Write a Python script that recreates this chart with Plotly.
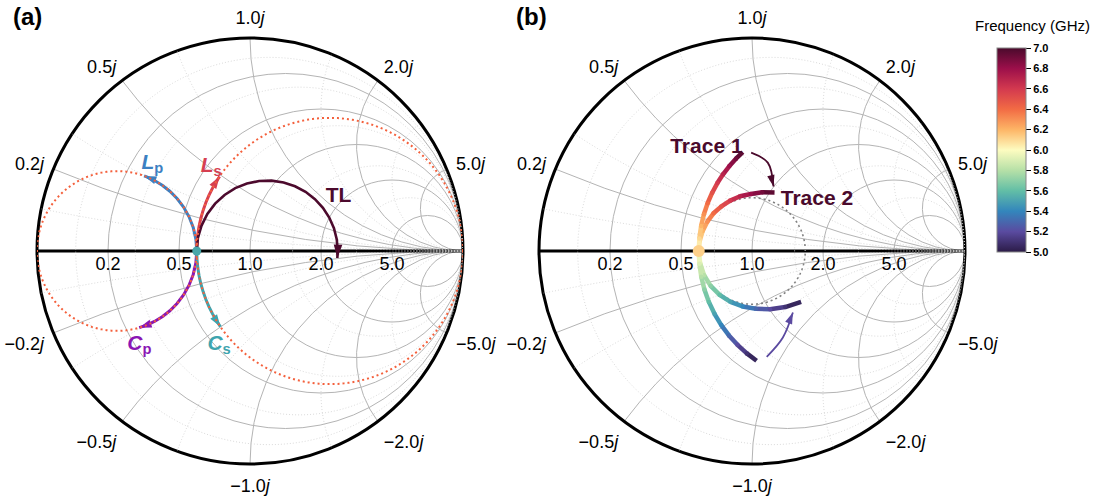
import numpy as np
import plotly.graph_objects as go
from plotly.colors import sample_colorscale

FONT = "Liberation Sans, Arial, sans-serif"
W, H = 1097, 498

# ---------------- data ----------------
z_load = 0.6                 # normalized starting impedance (30 ohm on 50 ohm)
g_load = 1.0 / z_load        # matching conductance of the start point

# (a) series L / series C: reactance swept along r = 0.6
ls_x = [0.0, 0.05, 0.10, 0.15, 0.20, 0.25, 0.30, 0.35, 0.40, 0.45, 0.49]
cs_x = [0.0, -0.05, -0.10, -0.15, -0.20, -0.25, -0.30, -0.35, -0.40, -0.45, -0.50]
# (a) shunt L / shunt C: susceptance swept along g = 1/0.6
lp_b = [0.0, -0.2, -0.4, -0.6, -0.8, -1.0, -1.2, -1.4, -1.6, -1.8, -1.87]
cp_b = [0.0, 0.2, 0.4, 0.6, 0.8, 1.0, 1.2, 1.4, 1.6, 1.8, 2.0]
# (a) transmission-line section, normalized impedance along the line
tl_r = [0.600, 0.603, 0.614, 0.632, 0.658, 0.693, 0.738, 0.797, 0.869, 0.960,
        1.072, 1.208, 1.371, 1.563, 1.777, 1.998, 2.201, 2.347, 2.400, 2.380]
tl_x = [0.000, 0.079, 0.157, 0.237, 0.317, 0.398, 0.480, 0.561, 0.642, 0.720,
        0.792, 0.851, 0.891, 0.898, 0.856, 0.749, 0.565, 0.306, 0.000, -0.187]

# (b) frequency sweep, 5-7 GHz
freq_ghz = [5.0, 5.1, 5.2, 5.3, 5.4, 5.5, 5.6, 5.7, 5.8, 5.9, 6.0,
            6.1, 6.2, 6.3, 6.4, 6.5, 6.6, 6.7, 6.8, 6.9, 7.0]
trace1_r = [0.60] * 21
trace1_x = [-0.843, -0.751, -0.660, -0.572, -0.486, -0.401, -0.318, -0.236, -0.156, -0.077, 0.0,
            0.076, 0.151, 0.225, 0.297, 0.369, 0.439, 0.509, 0.577, 0.645, 0.712]
# trace 2 as reflection coefficient (magnitude, angle in degrees)
trace2_mag = [0.332, 0.306, 0.286, 0.272, 0.264, 0.259, 0.256, 0.254, 0.252, 0.250, 0.250,
              0.250, 0.250, 0.251, 0.253, 0.254, 0.258, 0.263, 0.268, 0.280, 0.294]
trace2_deg = [-46.0, -59.4, -72.8, -86.2, -99.6, -113.0, -126.4, -139.8, -153.2, -166.6, 180.0,
              168.9, 157.8, 146.7, 135.6, 124.5, 113.4, 102.3, 91.2, 80.1, 68.9]

cbar_ticks = [5.0, 5.2, 5.4, 5.6, 5.8, 6.0, 6.2, 6.4, 6.6, 6.8, 7.0]
f_min, f_max = 5.0, 7.0

freq_scale = [
    [0.0, "#2b1b47"], [0.1, "#5a4ba0"], [0.2, "#3386bc"], [0.3, "#62bea6"],
    [0.4, "#b6e0a7"], [0.5, "#fdfcc0"], [0.6, "#fdb566"], [0.7, "#f26b44"],
    [0.8, "#d3394f"], [0.9, "#9c0f4a"], [1.0, "#4a0a2c"],
]

# chart grid values
tickvals = [0.2, 0.5, 1.0, 2.0, 5.0]
imag_tickvals = [-5.0, -2.0, -1.0, -0.5, -0.2, 0.2, 0.5, 1.0, 2.0, 5.0]
r_minor = [0.1, 0.3, 0.7, 1.5, 3.0]
x_minor = [0.1, 0.3, 0.7, 1.5, 3.0]

# annotation positions, given as reflection coefficients
lbl_a = {
    "Lp": (-0.458, 0.411), "Ls": (-0.182, 0.397), "TL": (0.416, 0.257),
    "Cp": (-0.519, -0.439), "Cs": (-0.145, -0.439),
}
lbl_b = {"Trace 1": (-0.214, 0.485), "Trace 2": (0.305, 0.241)}
bend_arrow_1 = [(-0.004, 0.462), (0.074, 0.415), (0.101, 0.303)]
bend_arrow_2 = [(0.069, -0.497), (0.145, -0.406), (0.192, -0.289)]
real_label_drop = 0.066      # real-axis labels sit this far below the axis (in |Gamma| units)

# ---------------- helpers ----------------
def to_gamma(z):
    z = np.asarray(z, dtype=complex)
    return (z - 1) / (z + 1)


def to_z(g):
    g = np.asarray(g, dtype=complex)
    return (1 + g) / (1 - g)


fig = go.Figure()


def add_line(z, sp, color, width, dash=None):
    z = np.asarray(z, dtype=complex)
    fig.add_trace(go.Scattersmith(
        real=z.real, imag=z.imag, mode="lines", subplot=sp,
        line=dict(color=color, width=width, dash=dash),
        showlegend=False, hoverinfo="skip"))


def add_arrow(z, sp, color, width, head=13, smooth=False):
    z = np.asarray(z, dtype=complex)
    fig.add_trace(go.Scattersmith(
        real=z.real, imag=z.imag, mode="lines", subplot=sp,
        line=dict(color=color, width=width, shape="spline" if smooth else "linear"),
        showlegend=False, hoverinfo="skip"))
    g = to_gamma(z[-2:])
    d = g[1] - g[0]
    ang = float(np.degrees(np.arctan2(d.real, d.imag)))
    fig.add_trace(go.Scattersmith(
        real=[z[-1].real], imag=[z[-1].imag], mode="markers", subplot=sp,
        marker=dict(symbol="arrow", size=head, color=color, angle=ang,
                    angleref="up", line=dict(width=0)),
        showlegend=False, hoverinfo="skip"))


def add_gradient(z, freqs, sp, width):
    z = np.asarray(z, dtype=complex)
    f = np.asarray(freqs, dtype=float)
    mids = (f[:-1] + f[1:]) / 2
    cols = sample_colorscale(freq_scale, list((mids - f_min) / (f_max - f_min)))
    for i in range(len(z) - 1):
        fig.add_trace(go.Scattersmith(
            real=z[i:i + 2].real, imag=z[i:i + 2].imag, mode="lines", subplot=sp,
            line=dict(color=cols[i], width=width),
            showlegend=False, hoverinfo="skip"))
    pcols = sample_colorscale(freq_scale, list((f - f_min) / (f_max - f_min)))
    fig.add_trace(go.Scattersmith(
        real=z[1:-1].real, imag=z[1:-1].imag, mode="markers", subplot=sp,
        marker=dict(size=width, color=pcols[1:-1], line=dict(width=0)),
        showlegend=False, hoverinfo="skip"))


def add_text_at(z, text, sp, color, size, pos="middle center"):
    fig.add_trace(go.Scattersmith(
        real=[z.real], imag=[z.imag], mode="text", subplot=sp,
        text=[text], textposition=pos,
        textfont=dict(family=FONT, size=size, color=color),
        showlegend=False, hoverinfo="skip"))


def add_label(g, text, sp, color, size=21):
    add_text_at(to_z([complex(*g)])[0], text, sp, color, size)


def circle_in_gamma(center, radius, n=400):
    phi = np.linspace(0, 2 * np.pi, n)
    g = center + radius * np.exp(1j * phi)
    g = np.where(np.abs(g - 1) < 1e-6, 1 - 1e-6, g)
    return to_z(g)


# minor dotted grid and real-axis labels for both charts
for sp in ("smith", "smith2"):
    for r in r_minor:
        zc = circle_in_gamma(r / (1 + r), 1 / (1 + r))
        add_line(zc, sp, "#d0d0d0", 0.8, dash="1px,2px")
    for xv in x_minor:
        rr = np.concatenate([[0.0], np.geomspace(1e-3, 1e4, 300)])
        for s in (1, -1):
            add_line(rr + 1j * s * xv, sp, "#d0d0d0", 0.8, dash="1px,2px")
    for tv in tickvals:
        gpos = to_gamma([tv])[0] - 1j * real_label_drop
        add_text_at(to_z([gpos])[0], f"{tv:.1f}", sp, "black", 18)

# ---------------- panel (a) ----------------
c_lp, c_ls, c_cp, c_cs, c_tl = "#3c80c2", "#d63f51", "#8a16b4", "#3ea4ae", "#4c0a2d"
guide = "#f4603c"

add_arrow([1 / complex(g_load, b) for b in lp_b], "smith", c_lp, 3)
add_arrow([complex(z_load, x) for x in ls_x], "smith", c_ls, 3)
add_arrow([1 / complex(g_load, b) for b in cp_b], "smith", c_cp, 3)
add_arrow([complex(z_load, x) for x in cs_x], "smith", c_cs, 3)
add_arrow([complex(r, x) for r, x in zip(tl_r, tl_x)], "smith", c_tl, 2.6, head=14)

# constant-r and constant-g guide circles through the start point
add_line(circle_in_gamma(z_load / (1 + z_load), 1 / (1 + z_load)), "smith", guide, 2, dash="2px,3px")
add_line(circle_in_gamma(-g_load / (1 + g_load), 1 / (1 + g_load)), "smith", guide, 2, dash="2px,3px")

fig.add_trace(go.Scattersmith(real=[z_load], imag=[0], mode="markers", subplot="smith",
                              marker=dict(size=9, color="#48a6aa", line=dict(width=0)),
                              showlegend=False, hoverinfo="skip"))

add_label(lbl_a["Lp"], "<b><i>L</i><sub>p</sub></b>", "smith", c_lp)
add_label(lbl_a["Ls"], "<b><i>L</i><sub>s</sub></b>", "smith", c_ls)
add_label(lbl_a["Cp"], "<b><i>C</i><sub>p</sub></b>", "smith", c_cp)
add_label(lbl_a["Cs"], "<b><i>C</i><sub>s</sub></b>", "smith", c_cs)
add_label(lbl_a["TL"], "<b>TL</b>", "smith", c_tl)

# ---------------- panel (b) ----------------
add_line(circle_in_gamma(0, abs(to_gamma([z_load])[0])), "smith2", "#808080", 1.6, dash="2px,3px")

z_t1 = np.array([complex(r, x) for r, x in zip(trace1_r, trace1_x)])
g_t2 = np.array(trace2_mag) * np.exp(1j * np.radians(trace2_deg))
z_t2 = to_z(g_t2)
add_gradient(z_t2, freq_ghz, "smith2", 4.5)
add_gradient(z_t1, freq_ghz, "smith2", 4.5)

add_arrow(to_z([complex(*p) for p in bend_arrow_1]), "smith2", "#4a0a2c", 1.8, head=12, smooth=True)
add_arrow(to_z([complex(*p) for p in bend_arrow_2]), "smith2", "#5b4aa0", 1.8, head=12, smooth=True)

fig.add_trace(go.Scattersmith(real=[z_load], imag=[0], mode="markers", subplot="smith2",
                              marker=dict(size=12, color="#fdd08a", line=dict(width=0)),
                              showlegend=False, hoverinfo="skip"))

add_label(lbl_b["Trace 1"], "<b>Trace 1</b>", "smith2", "#4a0a2c", size=21)
add_label(lbl_b["Trace 2"], "<b>Trace 2</b>", "smith2", "#4a0a2c", size=21)

# colour bar carrier
fig.add_trace(go.Scattersmith(
    real=[z_load], imag=[0], mode="markers", subplot="smith2",
    marker=dict(size=1, opacity=0, color=[6.0], colorscale=freq_scale, cmin=f_min, cmax=f_max,
                showscale=True,
                colorbar=dict(
                    x=997 / W, xanchor="left", y=1 - 48 / H, yanchor="top",
                    len=204, lenmode="pixels", thickness=29, thicknessmode="pixels",
                    xpad=0, ypad=0, outlinecolor="#888888", outlinewidth=1,
                    tickvals=cbar_ticks, ticktext=[f"{v:.1f}" for v in cbar_ticks],
                    ticks="outside", ticklen=5, tickcolor="black", tickwidth=1,
                    tickfont=dict(family=FONT, size=11, color="black", weight="bold"))),
    showlegend=False, hoverinfo="skip"))

# ---------------- axes / layout ----------------
def smith_axes(xdom, ydom):
    tf = dict(family=FONT, size=18, color="black")
    return dict(
        domain=dict(x=xdom, y=ydom), bgcolor="white",
        realaxis=dict(tickvals=tickvals, showticklabels=False,
                      showline=True, linecolor="black", linewidth=3, layer="below traces",
                      gridcolor="#b4b4b4", gridwidth=1, ticks=""),
        imaginaryaxis=dict(tickvals=imag_tickvals, tickformat=".1f", ticksuffix="<i>j</i>",
                           showline=True, linecolor="black", linewidth=3, layer="below traces",
                           gridcolor="#b4b4b4", gridwidth=1, ticks="outside", ticklen=5,
                           tickcolor="rgba(0,0,0,0)", tickfont=tf),
    )


# blank out the open-circuit marker that the chart places beside the right edge
def blank_box(x0, x1):
    return dict(type="rect", xref="paper", yref="paper", layer="above",
                x0=x0 / W, x1=x1 / W, y0=1 - 266 / H, y1=1 - 236 / H,
                fillcolor="white", line=dict(width=0))


ydom = [(H - 464) / H, (H - 38) / H]
fig.update_layout(
    width=W, height=H, margin=dict(l=0, r=0, t=0, b=0),
    paper_bgcolor="white", font=dict(family=FONT),
    smith=smith_axes([36 / W, 464 / W], ydom),
    smith2=smith_axes([539 / W, 965 / W], ydom),
    shapes=[blank_box(467, 500), blank_box(968, 998)],
    annotations=[
        dict(text="<b>(a)</b>", x=27 / W, y=1 - 17 / H, xref="paper", yref="paper",
             xanchor="center", yanchor="middle",
             showarrow=False, font=dict(size=24, color="black", family=FONT)),
        dict(text="<b>(b)</b>", x=531 / W, y=1 - 17 / H, xref="paper", yref="paper",
             xanchor="center", yanchor="middle",
             showarrow=False, font=dict(size=24, color="black", family=FONT)),
        dict(text="Frequency (GHz)", x=1032 / W, y=1 - 26 / H, xref="paper", yref="paper",
             xanchor="center", yanchor="middle",
             showarrow=False, font=dict(size=15, color="black", family=FONT)),
    ],
)

fig.write_html("out.html", config={"displayModeBar": False})
